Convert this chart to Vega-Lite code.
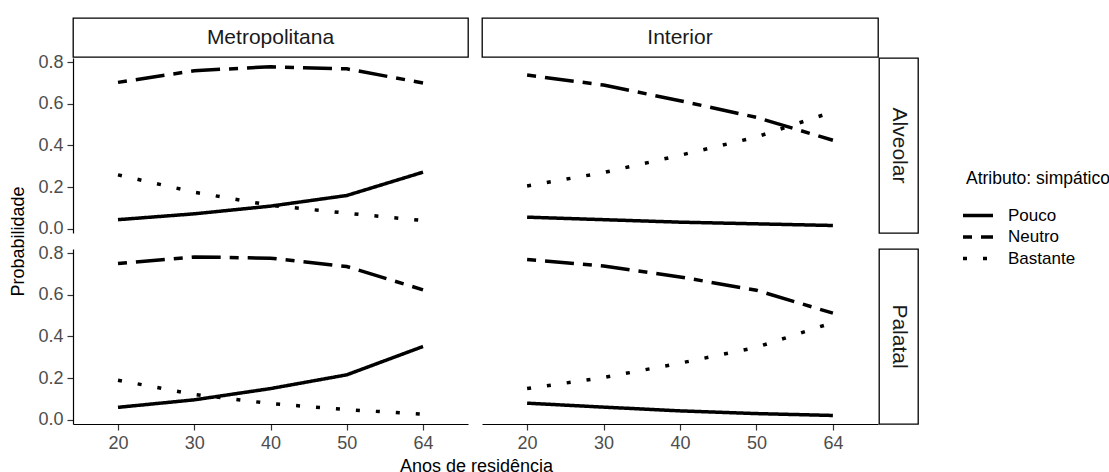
{
  "$schema": "https://vega.github.io/schema/vega-lite/v6.json",
  "background": "white",
  "padding": {"left": 9, "top": 17, "right": 5, "bottom": 5},
  "datasets": {
    "d": [
      {"zona": "Metropolitana", "consoante": "Alveolar", "atributo": "Pouco", "anos": 20, "prob": 0.044},
      {"zona": "Metropolitana", "consoante": "Alveolar", "atributo": "Pouco", "anos": 30, "prob": 0.072},
      {"zona": "Metropolitana", "consoante": "Alveolar", "atributo": "Pouco", "anos": 40, "prob": 0.109},
      {"zona": "Metropolitana", "consoante": "Alveolar", "atributo": "Pouco", "anos": 50, "prob": 0.160},
      {"zona": "Metropolitana", "consoante": "Alveolar", "atributo": "Pouco", "anos": 64, "prob": 0.272},
      {"zona": "Metropolitana", "consoante": "Alveolar", "atributo": "Neutro", "anos": 20, "prob": 0.703},
      {"zona": "Metropolitana", "consoante": "Alveolar", "atributo": "Neutro", "anos": 30, "prob": 0.759},
      {"zona": "Metropolitana", "consoante": "Alveolar", "atributo": "Neutro", "anos": 40, "prob": 0.778},
      {"zona": "Metropolitana", "consoante": "Alveolar", "atributo": "Neutro", "anos": 50, "prob": 0.768},
      {"zona": "Metropolitana", "consoante": "Alveolar", "atributo": "Neutro", "anos": 64, "prob": 0.700},
      {"zona": "Metropolitana", "consoante": "Alveolar", "atributo": "Bastante", "anos": 20, "prob": 0.259},
      {"zona": "Metropolitana", "consoante": "Alveolar", "atributo": "Bastante", "anos": 30, "prob": 0.176},
      {"zona": "Metropolitana", "consoante": "Alveolar", "atributo": "Bastante", "anos": 40, "prob": 0.113},
      {"zona": "Metropolitana", "consoante": "Alveolar", "atributo": "Bastante", "anos": 50, "prob": 0.075},
      {"zona": "Metropolitana", "consoante": "Alveolar", "atributo": "Bastante", "anos": 64, "prob": 0.040},
      {"zona": "Metropolitana", "consoante": "Palatal", "atributo": "Pouco", "anos": 20, "prob": 0.060},
      {"zona": "Metropolitana", "consoante": "Palatal", "atributo": "Pouco", "anos": 30, "prob": 0.096},
      {"zona": "Metropolitana", "consoante": "Palatal", "atributo": "Pouco", "anos": 40, "prob": 0.150},
      {"zona": "Metropolitana", "consoante": "Palatal", "atributo": "Pouco", "anos": 50, "prob": 0.216},
      {"zona": "Metropolitana", "consoante": "Palatal", "atributo": "Pouco", "anos": 64, "prob": 0.352},
      {"zona": "Metropolitana", "consoante": "Palatal", "atributo": "Neutro", "anos": 20, "prob": 0.750},
      {"zona": "Metropolitana", "consoante": "Palatal", "atributo": "Neutro", "anos": 30, "prob": 0.782},
      {"zona": "Metropolitana", "consoante": "Palatal", "atributo": "Neutro", "anos": 40, "prob": 0.776},
      {"zona": "Metropolitana", "consoante": "Palatal", "atributo": "Neutro", "anos": 50, "prob": 0.736},
      {"zona": "Metropolitana", "consoante": "Palatal", "atributo": "Neutro", "anos": 64, "prob": 0.624},
      {"zona": "Metropolitana", "consoante": "Palatal", "atributo": "Bastante", "anos": 20, "prob": 0.190},
      {"zona": "Metropolitana", "consoante": "Palatal", "atributo": "Bastante", "anos": 30, "prob": 0.122},
      {"zona": "Metropolitana", "consoante": "Palatal", "atributo": "Bastante", "anos": 40, "prob": 0.078},
      {"zona": "Metropolitana", "consoante": "Palatal", "atributo": "Bastante", "anos": 50, "prob": 0.049},
      {"zona": "Metropolitana", "consoante": "Palatal", "atributo": "Bastante", "anos": 64, "prob": 0.027},
      {"zona": "Interior", "consoante": "Alveolar", "atributo": "Pouco", "anos": 20, "prob": 0.056},
      {"zona": "Interior", "consoante": "Alveolar", "atributo": "Pouco", "anos": 30, "prob": 0.044},
      {"zona": "Interior", "consoante": "Alveolar", "atributo": "Pouco", "anos": 40, "prob": 0.032},
      {"zona": "Interior", "consoante": "Alveolar", "atributo": "Pouco", "anos": 50, "prob": 0.024},
      {"zona": "Interior", "consoante": "Alveolar", "atributo": "Pouco", "anos": 64, "prob": 0.016},
      {"zona": "Interior", "consoante": "Alveolar", "atributo": "Neutro", "anos": 20, "prob": 0.738},
      {"zona": "Interior", "consoante": "Alveolar", "atributo": "Neutro", "anos": 30, "prob": 0.690},
      {"zona": "Interior", "consoante": "Alveolar", "atributo": "Neutro", "anos": 40, "prob": 0.615},
      {"zona": "Interior", "consoante": "Alveolar", "atributo": "Neutro", "anos": 50, "prob": 0.535},
      {"zona": "Interior", "consoante": "Alveolar", "atributo": "Neutro", "anos": 64, "prob": 0.425},
      {"zona": "Interior", "consoante": "Alveolar", "atributo": "Bastante", "anos": 20, "prob": 0.206},
      {"zona": "Interior", "consoante": "Alveolar", "atributo": "Bastante", "anos": 30, "prob": 0.270},
      {"zona": "Interior", "consoante": "Alveolar", "atributo": "Bastante", "anos": 40, "prob": 0.353},
      {"zona": "Interior", "consoante": "Alveolar", "atributo": "Bastante", "anos": 50, "prob": 0.441},
      {"zona": "Interior", "consoante": "Alveolar", "atributo": "Bastante", "anos": 64, "prob": 0.562},
      {"zona": "Interior", "consoante": "Palatal", "atributo": "Pouco", "anos": 20, "prob": 0.080},
      {"zona": "Interior", "consoante": "Palatal", "atributo": "Pouco", "anos": 30, "prob": 0.061},
      {"zona": "Interior", "consoante": "Palatal", "atributo": "Pouco", "anos": 40, "prob": 0.043},
      {"zona": "Interior", "consoante": "Palatal", "atributo": "Pouco", "anos": 50, "prob": 0.030},
      {"zona": "Interior", "consoante": "Palatal", "atributo": "Pouco", "anos": 64, "prob": 0.021},
      {"zona": "Interior", "consoante": "Palatal", "atributo": "Neutro", "anos": 20, "prob": 0.770},
      {"zona": "Interior", "consoante": "Palatal", "atributo": "Neutro", "anos": 30, "prob": 0.738},
      {"zona": "Interior", "consoante": "Palatal", "atributo": "Neutro", "anos": 40, "prob": 0.686},
      {"zona": "Interior", "consoante": "Palatal", "atributo": "Neutro", "anos": 50, "prob": 0.622},
      {"zona": "Interior", "consoante": "Palatal", "atributo": "Neutro", "anos": 64, "prob": 0.512},
      {"zona": "Interior", "consoante": "Palatal", "atributo": "Bastante", "anos": 20, "prob": 0.150},
      {"zona": "Interior", "consoante": "Palatal", "atributo": "Bastante", "anos": 30, "prob": 0.203},
      {"zona": "Interior", "consoante": "Palatal", "atributo": "Bastante", "anos": 40, "prob": 0.272},
      {"zona": "Interior", "consoante": "Palatal", "atributo": "Bastante", "anos": 50, "prob": 0.348},
      {"zona": "Interior", "consoante": "Palatal", "atributo": "Bastante", "anos": 64, "prob": 0.467}
    ],
    "strips": [
      {"s": "Metropolitana"},
      {"s": "Interior"},
      {"s": "Alveolar"},
      {"s": "Palatal"}
    ]
  },
  "config": {
    "font": "Liberation Sans",
    "view": {"stroke": null},
    "axis": {
      "grid": false,
      "domainColor": "black",
      "domainWidth": 1.2,
      "tickColor": "#333333",
      "tickWidth": 1.2,
      "tickSize": 6,
      "labelPadding": 4,
      "labelFontSize": 18,
      "labelColor": "#4d4d4d",
      "titleFontSize": 18,
      "titleFontWeight": "normal",
      "titleColor": "black"
    },
    "legend": {
      "orient": "none",
      "legendX": 893,
      "legendY": 152,
      "titleFontSize": 17.5,
      "titleFontWeight": "normal",
      "titleColor": "black",
      "titlePadding": 16,
      "labelFontSize": 17,
      "labelColor": "black",
      "labelOffset": 18,
      "symbolType": "M-1.5,0H1.5",
      "symbolSize": 400,
      "symbolStrokeWidth": 3.5,
      "symbolStrokeColor": "black",
      "rowPadding": 1.5
    }
  },
  "resolve": {"scale": {"strokeDash": "shared"}, "legend": {"strokeDash": "shared"}},
  "columns": 4,
  "spacing": 1,
  "bounds": "flush",
  "align": "each",
  "concat": [
    {
      "width": 395, "height": 39,
      "view": {"stroke": "black", "strokeWidth": 1.3, "fill": "white"},
      "data": {"name": "strips"},
      "transform": [{"filter": "datum.s === 'Metropolitana'"}],
      "mark": {"type": "text", "fontSize": 21, "color": "#1a1a1a"},
      "encoding": {"text": {"field": "s", "type": "nominal"}}
    },
    {
      "width": 12, "height": 39,
      "data": {"name": "strips"},
      "transform": [{"filter": "false"}],
      "mark": {"type": "text"},
      "encoding": {"text": {"field": "s", "type": "nominal"}}
    },
    {
      "width": 396, "height": 39,
      "view": {"stroke": "black", "strokeWidth": 1.3, "fill": "white"},
      "data": {"name": "strips"},
      "transform": [{"filter": "datum.s === 'Interior'"}],
      "mark": {"type": "text", "fontSize": 21, "color": "#1a1a1a"},
      "encoding": {"text": {"field": "s", "type": "nominal"}}
    },
    {
      "width": 39, "height": 39,
      "data": {"name": "strips"},
      "transform": [{"filter": "false"}],
      "mark": {"type": "text"},
      "encoding": {"text": {"field": "s", "type": "nominal"}}
    },
    {
      "width": 395, "height": 175,
      "data": {"name": "d"},
      "transform": [{"filter": "datum.zona === 'Metropolitana' && datum.consoante === 'Alveolar'"}],
      "mark": {"type": "line", "color": "black", "strokeWidth": 3.5, "strokeCap": "butt"},
      "encoding": {
        "x": {"field": "anos", "type": "ordinal", "scale": {"type": "point", "padding": 0.59}, "axis": null},
        "y": {"field": "prob", "type": "quantitative", "scale": {"domain": [-0.02, 0.82], "nice": false, "zero": false},
              "axis": {"values": [0, 0.2, 0.4, 0.6, 0.8], "format": ".1f", "title": "Probabilidade", "titleX": -55, "titleY": 183, "titleBaseline": "middle", "titleAngle": 270}},
        "strokeDash": {"field": "atributo", "type": "nominal", "title": "Atributo: simpático",
                       "scale": {"domain": ["Pouco", "Neutro", "Bastante"], "range": [[1, 0], [9, 9, 29, 9], [4, 16]]}}
      }
    },
    {
      "width": 12, "height": 175,
      "data": {"name": "strips"},
      "transform": [{"filter": "false"}],
      "mark": {"type": "text"},
      "encoding": {"text": {"field": "s", "type": "nominal"}}
    },
    {
      "width": 396, "height": 175,
      "data": {"name": "d"},
      "transform": [{"filter": "datum.zona === 'Interior' && datum.consoante === 'Alveolar'"}],
      "mark": {"type": "line", "color": "black", "strokeWidth": 3.5, "strokeCap": "butt"},
      "encoding": {
        "x": {"field": "anos", "type": "ordinal", "scale": {"type": "point", "padding": 0.59}, "axis": null},
        "y": {"field": "prob", "type": "quantitative", "scale": {"domain": [-0.02, 0.82], "nice": false, "zero": false}, "axis": null},
        "strokeDash": {"field": "atributo", "type": "nominal", "title": "Atributo: simpático",
                       "scale": {"domain": ["Pouco", "Neutro", "Bastante"], "range": [[1, 0], [9, 9, 29, 9], [4, 16]]}}
      }
    },
    {
      "width": 39, "height": 175,
      "view": {"stroke": "black", "strokeWidth": 1.3, "fill": "white"},
      "data": {"name": "strips"},
      "transform": [{"filter": "datum.s === 'Alveolar'"}],
      "mark": {"type": "text", "fontSize": 21, "color": "#1a1a1a", "angle": 90},
      "encoding": {"text": {"field": "s", "type": "nominal"}}
    },
    {
      "width": 395, "height": 14,
      "data": {"name": "strips"},
      "transform": [{"filter": "false"}],
      "mark": {"type": "text"},
      "encoding": {"text": {"field": "s", "type": "nominal"}}
    },
    {
      "width": 12, "height": 14,
      "data": {"name": "strips"},
      "transform": [{"filter": "false"}],
      "mark": {"type": "text"},
      "encoding": {"text": {"field": "s", "type": "nominal"}}
    },
    {
      "width": 396, "height": 14,
      "data": {"name": "strips"},
      "transform": [{"filter": "false"}],
      "mark": {"type": "text"},
      "encoding": {"text": {"field": "s", "type": "nominal"}}
    },
    {
      "width": 39, "height": 14,
      "data": {"name": "strips"},
      "transform": [{"filter": "false"}],
      "mark": {"type": "text"},
      "encoding": {"text": {"field": "s", "type": "nominal"}}
    },
    {
      "width": 395, "height": 175,
      "data": {"name": "d"},
      "transform": [{"filter": "datum.zona === 'Metropolitana' && datum.consoante === 'Palatal'"}],
      "mark": {"type": "line", "color": "black", "strokeWidth": 3.5, "strokeCap": "butt"},
      "encoding": {
        "x": {"field": "anos", "type": "ordinal", "scale": {"type": "point", "padding": 0.59},
              "axis": {"labelAngle": 0, "title": "Anos de residência", "titleX": 403, "titleY": 42, "titleBaseline": "middle"}},
        "y": {"field": "prob", "type": "quantitative", "scale": {"domain": [-0.02, 0.82], "nice": false, "zero": false},
              "axis": {"values": [0, 0.2, 0.4, 0.6, 0.8], "format": ".1f", "title": null}},
        "strokeDash": {"field": "atributo", "type": "nominal", "title": "Atributo: simpático",
                       "scale": {"domain": ["Pouco", "Neutro", "Bastante"], "range": [[1, 0], [9, 9, 29, 9], [4, 16]]}}
      }
    },
    {
      "width": 12, "height": 175,
      "data": {"name": "strips"},
      "transform": [{"filter": "false"}],
      "mark": {"type": "text"},
      "encoding": {"text": {"field": "s", "type": "nominal"}}
    },
    {
      "width": 396, "height": 175,
      "data": {"name": "d"},
      "transform": [{"filter": "datum.zona === 'Interior' && datum.consoante === 'Palatal'"}],
      "mark": {"type": "line", "color": "black", "strokeWidth": 3.5, "strokeCap": "butt"},
      "encoding": {
        "x": {"field": "anos", "type": "ordinal", "scale": {"type": "point", "padding": 0.59},
              "axis": {"labelAngle": 0, "title": null}},
        "y": {"field": "prob", "type": "quantitative", "scale": {"domain": [-0.02, 0.82], "nice": false, "zero": false}, "axis": null},
        "strokeDash": {"field": "atributo", "type": "nominal", "title": "Atributo: simpático",
                       "scale": {"domain": ["Pouco", "Neutro", "Bastante"], "range": [[1, 0], [9, 9, 29, 9], [4, 16]]}}
      }
    },
    {
      "width": 39, "height": 175,
      "view": {"stroke": "black", "strokeWidth": 1.3, "fill": "white"},
      "data": {"name": "strips"},
      "transform": [{"filter": "datum.s === 'Palatal'"}],
      "mark": {"type": "text", "fontSize": 21, "color": "#1a1a1a", "angle": 90},
      "encoding": {"text": {"field": "s", "type": "nominal"}}
    }
  ]
}
